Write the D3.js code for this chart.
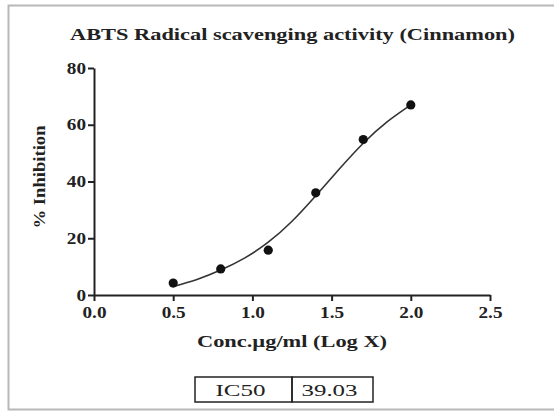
<!DOCTYPE html>
<html>
<head>
<meta charset="utf-8">
<script src="https://cdn.jsdelivr.net/npm/d3@7"></script>
<style>
  body { margin: 0; background: #fff; overflow: hidden; }
  svg { display: block; }
  text { font-family: "Liberation Serif", "DejaVu Serif", serif; fill: #222; }
</style>
</head>
<body>
<div id="chart"></div>
<script>
// Data
const logConc = [0.5, 0.8, 1.1, 1.4, 1.7, 2.0];
const inhibition = [4.2, 9.2, 15.8, 36, 54.8, 67];

const fitX = [0.5, 0.65, 0.8, 0.95, 1.1, 1.25, 1.4, 1.55, 1.7, 1.85, 2.0];
const fitY = [3.0, 5.5, 8.8, 13, 18.6, 26, 35, 44.5, 53.5, 61, 67];

const xTicks = [0, 0.5, 1, 1.5, 2, 2.5];
const yTicks = [0, 20, 40, 60, 80];
const tableCells = ["IC50", "39.03"];

// Dimensions
const width = 554;
const height = 412;
const margin = { top: 68, right: 64, bottom: 117, left: 94 };
const innerWidth = width - margin.left - margin.right;
const innerHeight = height - margin.top - margin.bottom;

const root = d3.select("#chart")
  .append("svg")
    .attr("width", width)
    .attr("height", height);

// outer frame of the figure
root.append("path")
  .attr("d", `M${width},5.5 H8.5 V409.5 H${width}`)
  .attr("fill", "none")
  .attr("stroke", "#b8b8b8")
  .attr("stroke-width", 2);

// the source picture is stretched sideways, so widen the glyphs a bit
const stretch = (sel, k) => sel.each(function () {
  const w = this.getComputedTextLength();
  d3.select(this).attr("textLength", w * k).attr("lengthAdjust", "spacingAndGlyphs");
});
const fit = (sel, len) => sel.attr("textLength", len).attr("lengthAdjust", "spacingAndGlyphs");

root.append("text")
  .attr("x", 70).attr("y", 40)
  .attr("font-size", 17.5)
  .attr("font-weight", "bold")
  .text("ABTS Radical scavenging activity (Cinnamon)")
  .call(fit, 445);

const svg = root.append("g")
  .attr("transform", `translate(${margin.left}, ${margin.top})`);

const xScale = d3.scaleLinear().domain([0, 2.5]).range([0, innerWidth]);
const yScale = d3.scaleLinear().domain([0, 80]).range([innerHeight, 0]);

const bottomAxis = d3.axisBottom(xScale)
  .tickValues(xTicks)
  .tickFormat(d3.format(".1f"))
  .tickSize(6)
  .tickSizeOuter(0);
const xAx = svg.append("g")
  .attr("class", "axis axis-x")
  .attr("transform", `translate(0, ${innerHeight})`)
  .call(bottomAxis);

const leftAxis = d3.axisLeft(yScale)
  .tickValues(yTicks)
  .tickSize(6)
  .tickSizeOuter(0);
const yAx = svg.append("g")
  .attr("class", "axis axis-y")
  .call(leftAxis);

svg.selectAll(".axis path, .axis line")
  .attr("stroke", "#222")
  .attr("stroke-width", 2);
svg.selectAll(".axis text")
  .attr("font-family", "Liberation Serif, serif")
  .attr("font-size", 16)
  .attr("font-weight", "bold")
  .attr("fill", "#222");
xAx.selectAll("text").attr("dy", "0.9em");
yAx.selectAll("text").attr("x", -8);
stretch(svg.selectAll(".axis text"), 1.2);

// axis titles
root.append("text")
  .attr("x", 292).attr("y", 347)
  .attr("text-anchor", "middle")
  .attr("font-size", 17)
  .attr("font-weight", "bold")
  .text("Conc.\u00b5g/ml (Log X)")
  .call(fit, 190);

root.append("text")
  .attr("transform", "translate(45, 177) rotate(-90)")
  .attr("text-anchor", "middle")
  .attr("font-size", 16)
  .attr("font-weight", "bold")
  .text("% Inhibition")
  .call(fit, 103);

// fitted curve
const line = d3.line()
  .x(d => xScale(d))
  .y((d, i) => yScale(fitY[i]))
  .curve(d3.curveNatural);
svg.append("path")
  .datum(fitX)
  .attr("d", line)
  .attr("fill", "none")
  .attr("stroke", "#333")
  .attr("stroke-width", 1.6);

// points
svg.append("g")
  .selectAll("circle")
  .data(logConc)
  .join("circle")
    .attr("cx", d => xScale(d))
    .attr("cy", (d, i) => yScale(inhibition[i]))
    .attr("r", 4.6)
    .attr("fill", "#111");

// IC50 table
const table = root.append("g").attr("transform", "translate(195, 377)");
const cellW = [97, 81];
const textW = [50, 56];
let cx = 0;
tableCells.forEach((t, i) => {
  table.append("rect")
    .attr("x", cx).attr("y", 0)
    .attr("width", cellW[i]).attr("height", 25)
    .attr("fill", "none")
    .attr("stroke", "#222")
    .attr("stroke-width", 1.5);
  table.append("text")
    .attr("x", cx + cellW[i] / 2 - 3).attr("y", 18.5)
    .attr("text-anchor", "middle")
    .attr("font-size", 17)
    .attr("fill", "#333")
    .text(t)
    .call(fit, textW[i]);
  cx += cellW[i];
});
</script>
</body>
</html>
